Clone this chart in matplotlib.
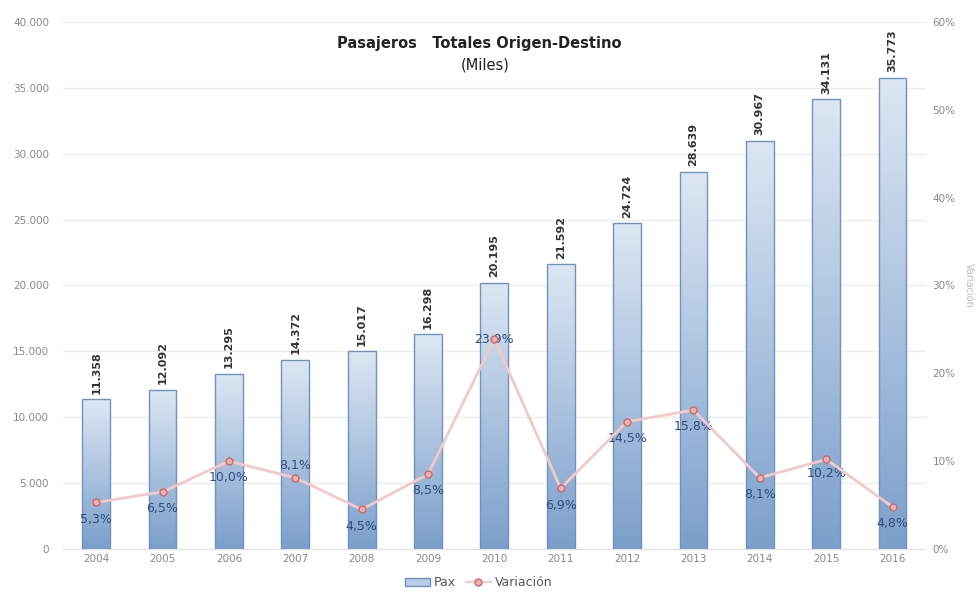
import numpy as np
import matplotlib
matplotlib.use('Agg')
from matplotlib import pyplot as plt
from matplotlib.colors import LinearSegmentedColormap
from matplotlib.patches import Rectangle
from matplotlib.ticker import FuncFormatter

years = ['2004', '2005', '2006', '2007', '2008', '2009', '2010',
         '2011', '2012', '2013', '2014', '2015', '2016']
pax = [11358, 12092, 13295, 14372, 15017, 16298, 20195,
       21592, 24724, 28639, 30967, 34131, 35773]
variacion = [5.3, 6.5, 10.0, 8.1, 4.5, 8.5, 23.9,
             6.9, 14.5, 15.8, 8.1, 10.2, 4.8]
# label offset (points) for each percentage label
pct_offset = [-12, -12, -12, 9, -12, -12, 0, -12, -12, -12, -12, -10, -12]

def thousands(v, pos=None):
    return '{:,.0f}'.format(v).replace(',', '.')

fig = plt.figure(figsize=(9.77, 5.99), dpi=100)
ax = fig.add_axes([0.0645, 0.0835, 0.883, 0.88])
ax2 = ax.twinx()

x = np.arange(len(years))
width = 0.42
cmap = LinearSegmentedColormap.from_list('barfill', ['#7b9fcb', '#dde7f3'])
grad = np.linspace(0, 1, 256).reshape(-1, 1)

bars = ax.bar(x, pax, width, color='none', edgecolor='#6f93c0', linewidth=1.0, zorder=3)
for b in bars:
    bx, by = b.get_x(), b.get_y()
    bw, bh = b.get_width(), b.get_height()
    im = ax.imshow(grad, cmap=cmap, origin='lower', aspect='auto',
                   extent=[bx, bx + bw, by, by + bh], zorder=2)
    im.set_clip_path(b)

for xi, v in zip(x, pax):
    ax.annotate(thousands(v), (xi, v), xytext=(0, 4), textcoords='offset points',
                rotation=90, ha='center', va='bottom', fontsize=8,
                fontweight='bold', color='#333333')

ax.set_xlim(-0.5, len(years) - 0.5)
ax.set_ylim(0, 40000)
ax.set_yticks(np.arange(0, 40001, 5000))
ax.yaxis.set_major_formatter(FuncFormatter(thousands))
ax.set_xticks(x)
ax.set_xticklabels(years)
ax.grid(axis='y', color='#ececec', linewidth=1.0, zorder=0)
ax.set_axisbelow(True)

ax2.plot(x, variacion, color='#f3c9c9', linewidth=2.0, zorder=4,
         marker='o', markersize=5, markerfacecolor='#eeb0b0',
         markeredgecolor='#c86a6a', markeredgewidth=1.0)
for xi, v, off in zip(x, variacion, pct_offset):
    ax2.annotate('{:.1f}%'.format(v).replace('.', ','), (xi, v),
                 xytext=(0, off), textcoords='offset points',
                 ha='center', va='center', fontsize=9, color='#2e4d7b')
ax2.set_ylim(0, 60)
ax2.set_yticks(np.arange(0, 61, 10))
ax2.yaxis.set_major_formatter(FuncFormatter(lambda v, p: '{:.0f}%'.format(v)))
ax2.set_ylabel('Variación', rotation=270, fontsize=7, color='#bbbbbb', va='center')
ax2.yaxis.set_label_coords(1.05, 0.5)

for a in (ax, ax2):
    for s in a.spines.values():
        s.set_visible(False)
    a.tick_params(length=0, labelsize=7.5, colors='#888888')
ax.tick_params(axis='y', pad=10)
ax2.tick_params(axis='y', pad=5)
ax.spines['bottom'].set_visible(True)
ax.spines['bottom'].set_color('#e0e0e0')

fig.text(0.491, 0.928, 'Pasajeros   Totales Origen-Destino', ha='center',
         va='center', fontsize=10.5, fontweight='bold', color='#222222')
fig.text(0.497, 0.892, '(Miles)', ha='center', va='center', fontsize=10.5, color='#222222')

h1 = Rectangle((0, 0), 1, 1, facecolor='#b9cde6', edgecolor='#6f93c0')
h2, = ax2.plot([], [], color='#f3c9c9', linewidth=1.5, marker='o', markersize=5,
               markerfacecolor='#eeb0b0', markeredgecolor='#c86a6a')
fig.legend([h1, h2], ['Pax', 'Variación'], loc='center', bbox_to_anchor=(0.49, 0.027),
           ncol=2, frameon=False, fontsize=9, labelcolor='#555555',
           handlelength=2.0, handletextpad=0.3, columnspacing=0.8)

fig.savefig('out.png', dpi=100)
